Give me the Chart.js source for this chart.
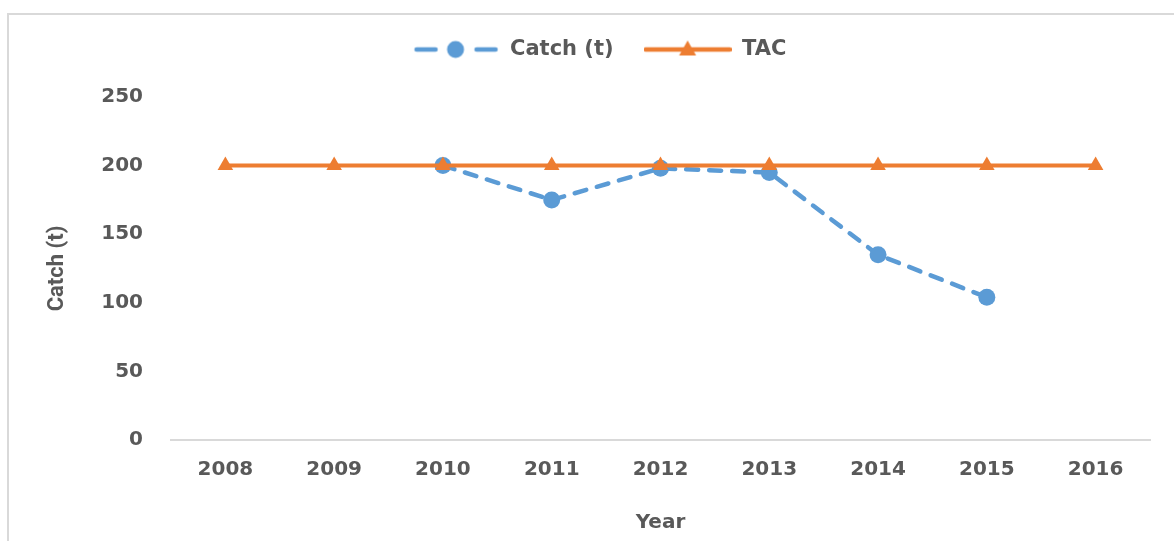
<!DOCTYPE html>
<html>
<head>
<meta charset="utf-8">
<script src="https://cdn.jsdelivr.net/npm/chart.js@4/dist/chart.umd.min.js"></script>
<style>
  html, body { margin: 0; padding: 0; background: #fff; overflow: hidden; }
  #wrap { position: relative; width: 1174px; height: 541px; }
  #frame { position: absolute; left: 7px; top: 13px; width: 1200px; height: 600px;
           border: 2px solid #d9d9d9; box-sizing: border-box; }
  #chart { position: absolute; left: 0; top: 0; }
</style>
</head>
<body>
<div id="wrap">
  <div id="frame"></div>
  <canvas id="chart" width="1174" height="541"></canvas>
</div>
<script>
// ── data ────────────────────────────────────────────────────────────────────
const years     = ['2008', '2009', '2010', '2011', '2012', '2013', '2014', '2015', '2016'];
const catchT    = [null, null, 200, 175, 198, 195, 135, 104, null];
const tac       = [200, 200, 200, 200, 200, 200, 200, 200, 200];
const yTicks    = [0, 50, 100, 150, 200, 250];

const _blue   = '#5b9bd5';
const _orange = '#ed7d31';
const _txt    = '#595959';
const _grid   = '#d9d9d9';
const _font   = 'DejaVu Sans, Verdana, sans-serif';

// legend symbols: line + marker, like the spreadsheet legend
function legendSymbol(kind) {
  const c = document.createElement('canvas');
  c.width = 88; c.height = 22;
  const g = c.getContext('2d');
  const cy = 11;
  g.lineWidth = 4.5;
  g.lineCap = 'round';
  if (kind === 'catch') {
    g.strokeStyle = _blue;
    g.beginPath(); g.moveTo(5, cy); g.lineTo(24, cy); g.stroke();
    g.beginPath(); g.moveTo(65, cy); g.lineTo(84, cy); g.stroke();
    g.fillStyle = _blue;
    g.beginPath(); g.arc(44, cy, 8.5, 0, Math.PI * 2); g.fill();
  } else {
    g.strokeStyle = _orange;
    g.beginPath(); g.moveTo(2, cy); g.lineTo(86, cy); g.stroke();
    g.fillStyle = _orange;
    g.beginPath(); g.moveTo(44, cy - 9); g.lineTo(52.5, cy + 6); g.lineTo(35.5, cy + 6); g.closePath(); g.fill();
  }
  return c;
}
const symbols = [legendSymbol('catch'), legendSymbol('tac')];

// keep the plot area top where the reference has it, and nudge legend right
const legendBox = {
  id: 'legendBox',
  afterInit(chart) {
    const lg = chart.legend;
    const fit = lg.fit;
    lg.fit = function () { fit.call(this); this.height = 88; };
  },
  afterLayout(chart) {
    chart.legend.left += 24;
    chart.legend.right += 24;
  }
};

new Chart(document.getElementById('chart'), {
  type: 'line',
  plugins: [legendBox],
  data: {
    labels: years,
    datasets: [
      {
        label: 'Catch (t)',
        data: catchT,
        borderColor: _blue,
        backgroundColor: _blue,
        borderWidth: 4.5,
        borderDash: [12, 11],
        borderCapStyle: 'round',
        pointStyle: 'circle',
        pointRadius: 8.5,
        pointBorderWidth: 0,
        pointBackgroundColor: _blue,
        tension: 0,
        order: 2
      },
      {
        label: 'TAC',
        data: tac,
        borderColor: _orange,
        backgroundColor: _orange,
        borderWidth: 4,
        pointStyle: 'triangle',
        pointRadius: 9,
        pointBorderWidth: 0,
        pointBackgroundColor: _orange,
        tension: 0,
        order: 1
      }
    ]
  },
  options: {
    responsive: false,
    animation: false,
    layout: { padding: { top: 9, right: 24, bottom: 0, left: 0 } },
    plugins: {
      tooltip: { enabled: false },
      legend: {
        position: 'top',
        labels: {
          usePointStyle: true,
          pointStyleWidth: 88,
          padding: 30,
          color: _txt,
          font: { family: _font, size: 21, weight: 'bold' },
          generateLabels: chart => chart.data.datasets.map((ds, i) => ({
            text: ds.label,
            fillStyle: ds.borderColor,
            strokeStyle: ds.borderColor,
            lineWidth: 0,
            pointStyle: symbols[i],
            fontColor: _txt,
            hidden: false,
            datasetIndex: i
          }))
        }
      }
    },
    scales: {
      x: {
        offset: true,
        grid: { display: false, drawTicks: false },
        border: { display: true, color: _grid, width: 2 },
        ticks: { color: _txt, padding: 18, font: { family: _font, size: 20, weight: 'bold' } },
        title: {
          display: true, text: 'Year', color: _txt,
          font: { family: _font, size: 20, weight: 'bold' },
          padding: { top: 0, bottom: 6 }
        },
        afterFit: s => { s.height = 101; }
      },
      y: {
        min: 0, max: 250,
        grid: { display: false, drawTicks: false },
        border: { display: false },
        afterBuildTicks: s => { s.ticks = yTicks.map(v => ({ value: v })); },
        ticks: { color: _txt, padding: 28, font: { family: _font, size: 20, weight: 'bold' } },
        title: {
          display: true, text: 'Catch (t)', color: _txt,
          font: { family: 'Roboto, "DejaVu Sans Condensed", sans-serif', size: 22, weight: 'bold' },
          padding: { top: 44, bottom: 0 }
        },
        afterFit: s => { s.width = 171; }
      }
    }
  }
});
</script>
</body>
</html>
